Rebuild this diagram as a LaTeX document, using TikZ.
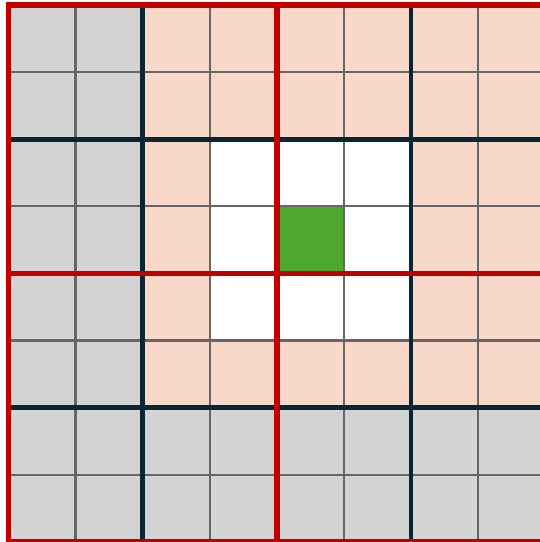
\documentclass[tikz,border=0pt]{standalone}
\usepackage{tikz}
\usetikzlibrary{positioning}
\usepackage{xcolor}
\definecolor{cellgray}{RGB}{211, 211, 211}
\definecolor{cellpeach}{RGB}{248, 217, 201}
\definecolor{cellgreen}{RGB}{78, 167, 46}
\definecolor{gridred}{RGB}{192, 0, 0}
\definecolor{griddark}{RGB}{10, 37, 52}
\definecolor{gridthin}{RGB}{102, 102, 102}

\begin{document}
\begin{tikzpicture}[scale=1.0]
  \useasboundingbox (-0.127,-0.003) rectangle (7.92,8.075);

  % 背景单元格
  \fill[cellpeach] (0,0) rectangle (8,8);
  \fill[cellgray] (0,0) rectangle (2,8);
  \fill[cellgray] (0,0) rectangle (8,2);

  % 中心空白区域 3x3
  \fill[white] (3,3) rectangle (6,6);

  % 中心单元
  \fill[cellgreen] (4,4) rectangle (5,5);

  % 细网格线
  \foreach \i in {1,3,5,7} {
    \draw[gridthin, line width=1pt] (\i,0) -- (\i,8);
    \draw[gridthin, line width=1pt] (0,\i) -- (8,\i);
  }

  % 2x2 分块线
  \foreach \i in {2,6} {
    \draw[griddark, line width=2pt] (\i,0) -- (\i,8);
    \draw[griddark, line width=2pt] (0,\i) -- (8,\i);
  }

  % 4x4 分块线
  \foreach \i in {0,4,8} {
    \draw[gridred, line width=2.2pt, line cap=rect] (\i,0) -- (\i,8);
    \draw[gridred, line width=2.2pt, line cap=rect] (0,\i) -- (8,\i);
  }
\end{tikzpicture}
\end{document}
